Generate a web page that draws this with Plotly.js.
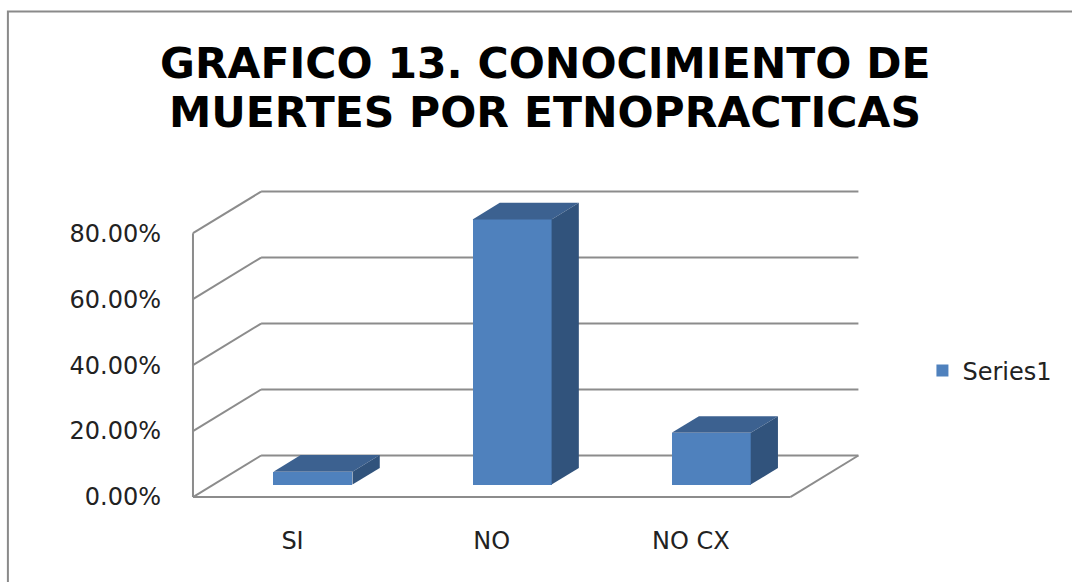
<!DOCTYPE html>
<html>
<head>
<meta charset="utf-8">
<script src="https://cdn.plot.ly/plotly-3.0.1.min.js"></script>
<style>
  html, body { margin: 0; padding: 0; background: #ffffff; }
  #chart { width: 1072px; height: 582px; }
</style>
</head>
<body>
<div id="chart"></div>
<script>
// Conocimiento de muertes por etnoprácticas (share of respondents)
const categories = ['SI', 'NO', 'NO CX'];
const values = [0.0392, 0.8039, 0.1569];
const seriesName = 'Series1';
const tickVals = [0, 0.2, 0.4, 0.6, 0.8];
const tickText = ['0.00%', '20.00%', '40.00%', '60.00%', '80.00%'];
const titleLines = ['GRAFICO 13. CONOCIMIENTO DE', 'MUERTES POR ETNOPRACTICAS'];

// Oblique projection of the 3-D box: the depth axis runs up and to the right.
const DX = 0.342;          // full floor depth, in category units
const DY = 0.126;          // full floor depth, in value units
const BAR_FRONT = 0.3;     // bars sit between these depth fractions
const BAR_BACK = 0.7;
const BAR_W = 0.397;

const FRONT = '#4F81BD', TOP = '#3C6190', SIDE = '#31537C', GRID = '#8C8C8C';

const xIdx = categories.map((c, i) => i);
const baseY = BAR_FRONT * DY;
const barX = xIdx.map(i => i + BAR_FRONT * DX);
const bdx = (BAR_BACK - BAR_FRONT) * DX;
const bdy = (BAR_BACK - BAR_FRONT) * DY;
const xLeft = -0.5, xRight = categories.length - 0.5;

const traces = [];

// front faces of the columns
traces.push({
  type: 'bar', name: seriesName, x: barX, y: values, base: baseY, width: BAR_W,
  marker: { color: FRONT, line: { width: 0 } }, hoverinfo: 'skip', showlegend: true
});

// top and right side faces, derived from each value
values.forEach((v, i) => {
  const x0 = barX[i] - BAR_W / 2, x1 = barX[i] + BAR_W / 2;
  const yb = baseY, yt = baseY + v;
  traces.push({
    type: 'scatter', mode: 'lines', fill: 'toself', fillcolor: TOP,
    line: { width: 0, color: TOP }, hoverinfo: 'skip', showlegend: false,
    x: [x0, x1, x1 + bdx, x0 + bdx, x0],
    y: [yt, yt, yt + bdy, yt + bdy, yt]
  });
  traces.push({
    type: 'scatter', mode: 'lines', fill: 'toself', fillcolor: SIDE,
    line: { width: 0, color: SIDE }, hoverinfo: 'skip', showlegend: false,
    x: [x1, x1, x1 + bdx, x1 + bdx, x1],
    y: [yb, yt, yt + bdy, yb + bdy, yb]
  });
});

// walls and floor
const shapes = [];
const gl = { color: GRID, width: 2 };
tickVals.forEach(t => {
  shapes.push({ type: 'line', xref: 'x', yref: 'y', layer: 'below', line: gl,
    x0: xLeft + DX, y0: t + DY, x1: xRight + DX, y1: t + DY });
  shapes.push({ type: 'line', xref: 'x', yref: 'y', layer: 'below', line: gl,
    x0: xLeft, y0: t, x1: xLeft + DX, y1: t + DY });
});
shapes.push({ type: 'line', xref: 'x', yref: 'y', layer: 'below', line: gl,
  x0: xLeft, y0: 0, x1: xLeft, y1: tickVals[tickVals.length - 1] });
shapes.push({ type: 'line', xref: 'x', yref: 'y', layer: 'below', line: gl,
  x0: xLeft, y0: 0, x1: xRight, y1: 0 });
shapes.push({ type: 'line', xref: 'x', yref: 'y', layer: 'below', line: gl,
  x0: xRight, y0: 0, x1: xRight + DX, y1: DY });

// chart frame (left and top edges visible)
shapes.push({ type: 'rect', xref: 'paper', yref: 'paper', layer: 'below',
  x0: -0.2691, y0: -1, x1: 2, y1: 1.557, line: { color: '#8A8A8A', width: 2 }, fillcolor: 'rgba(0,0,0,0)' });

// two-line title with tight leading
const titleFont = { family: 'DejaVu Sans, sans-serif', size: 42.5, color: '#000000', weight: 700 };
const annotations = [
  { xref: 'paper', yref: 'paper', x: 0.529, y: 1.3951, xanchor: 'center', yanchor: 'middle',
    height: 48, text: titleLines[0], showarrow: false, font: titleFont },
  { xref: 'paper', yref: 'paper', x: 0.529, y: 1.2393, xanchor: 'center', yanchor: 'middle',
    height: 48, text: titleLines[1], showarrow: false, font: titleFont }
];

const labelFont = { family: 'DejaVu Sans, sans-serif', size: 24, color: '#222222' };

const layout = {
  width: 1072, height: 582,
  margin: { l: 189, r: 210.4, t: 187.3, b: 80.1, pad: 0 },
  paper_bgcolor: '#ffffff', plot_bgcolor: 'rgba(0,0,0,0)',
  bargap: 0,
  xaxis: {
    range: [-0.52, 2.86], showgrid: false, zeroline: false, showline: false,
    tickmode: 'array', tickvals: xIdx, ticktext: categories, ticks: '',
    ticklabelstandoff: 22, tickfont: labelFont, fixedrange: true
  },
  yaxis: {
    range: [-0.015, 0.94], showgrid: false, zeroline: false, showline: false,
    tickmode: 'array', tickvals: tickVals, ticktext: tickText, ticks: '',
    ticklabelstandoff: 27, tickfont: labelFont, fixedrange: true
  },
  showlegend: true,
  legend: {
    x: 1.0898, y: 0.416, xanchor: 'left', yanchor: 'middle',
    font: labelFont, bgcolor: 'rgba(0,0,0,0)', borderwidth: 0
  },
  shapes: shapes,
  annotations: annotations
};

Plotly.newPlot('chart', traces, layout, { staticPlot: true, displayModeBar: false });
</script>
</body>
</html>
